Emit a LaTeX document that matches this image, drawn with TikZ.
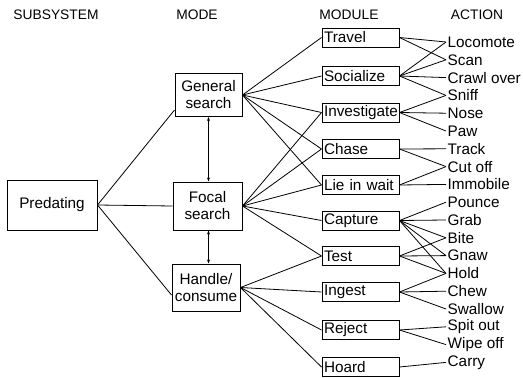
\documentclass[tikz,border=0pt]{standalone}
\usepackage{fontspec}
\setmainfont{Liberation Sans}
\usetikzlibrary{arrows.meta}
\begin{document}
\begin{tikzpicture}[x=1pt,y=-1pt,
  txt/.style={font=\fontsize{15.3}{17}\selectfont},
  box/.style={draw,line width=1pt,txt},
  modbox/.style={box,minimum height=19pt,text width=73pt,inner xsep=2pt,inner ysep=0pt,align=left},
  modebox/.style={box,align=center,inner sep=0pt},
  act/.style={txt,anchor=west,inner xsep=1.5pt,inner ysep=0pt},
  hdr/.style={font=\fontsize{13.8}{15}\selectfont},
  ln/.style={line width=0.8pt},
  dbl/.style={line width=0.8pt,{Stealth[length=4pt,width=3pt]}-{Stealth[length=4pt,width=3pt]}}
]
\path[use as bounding box] (0,0) rectangle (523,378);
% headers
\node[hdr] (h1) at (56,15) {SUBSYSTEM};
\node[hdr] (h2) at (197,15) {MODE};
\node[hdr] (h3) at (349,15) {MODULE};
\node[hdr] (h4) at (477,15) {ACTION};
% subsystem
\node[modebox,minimum width=90pt,minimum height=50pt] (pred) at (52,205) {Predating};
% modes
\node[modebox,minimum width=67pt,minimum height=43pt] (gen) at (208.5,95) {General\\search};
\node[modebox,minimum width=69pt,minimum height=48pt] (foc) at (207.5,206) {Focal\\search};
\node[modebox,minimum width=68pt,minimum height=47pt] (hdl) at (206,287.5) {Handle/\\consume};
% modules
\node[modbox] (travel) at (360.5,37.5) {Travel};
\node[modbox] (social) at (360.5,76) {Socialize};
\node[modbox] (invest) at (360.5,112.5) {Investigate};
\node[modbox] (chase) at (360.5,149) {Chase};
\node[modbox] (lie) at (360.5,185) {Lie in wait};
\node[modbox] (capture) at (360.5,220.5) {Capture};
\node[modbox] (test) at (360.5,256) {Test};
\node[modbox] (ingest) at (360.5,292) {Ingest};
\node[modbox] (reject) at (360.5,330) {Reject};
\node[modbox] (hoard) at (360.5,367) {Hoard};
% actions
\node[act] (loco) at (446,42) {Locomote};
\node[act] (scan) at (446,59.8) {Scan};
\node[act] (crawl) at (446,77.6) {Crawl over};
\node[act] (sniff) at (446,95.4) {Sniff};
\node[act] (nose) at (446,113.2) {Nose};
\node[act] (paw) at (446,131) {Paw};
\node[act] (track) at (446,148.8) {Track};
\node[act] (cut) at (446,166.6) {Cut off};
\node[act] (immo) at (446,184.4) {Immobile};
\node[act] (pounce) at (446,202.2) {Pounce};
\node[act] (grab) at (446,220) {Grab};
\node[act] (bite) at (446,237.8) {Bite};
\node[act] (gnaw) at (446,255.6) {Gnaw};
\node[act] (hold) at (446,273.4) {Hold};
\node[act] (chew) at (446,291.2) {Chew};
\node[act] (swallow) at (446,309) {Swallow};
\node[act] (spit) at (446,326.8) {Spit out};
\node[act] (wipe) at (446,344.6) {Wipe off};
\node[act] (carry) at (446,362.4) {Carry};
% subsystem -> modes
\draw[ln] (pred.east) -- ([yshift=-15pt]gen.west);
\draw[ln] (pred.east) -- (foc.west);
\draw[ln] (pred.east) -- ([yshift=-7.5pt]hdl.west);
% mode links
\draw[dbl] (gen.south) -- (gen.south |- foc.north);
\draw[dbl] (foc.south -| gen.south) -- (hdl.north -| gen.south);
% modes -> modules
\foreach \m in {travel,social,invest,chase,lie} \draw[ln] (gen.east) -- (\m.west);
\foreach \m in {invest,chase,lie,capture,test} \draw[ln] (foc.east) -- (\m.west);
\foreach \m in {test,ingest,reject,hoard} \draw[ln] (hdl.east) -- (\m.west);
% modules -> actions
\foreach \a in {loco,scan} \draw[ln] (travel.east) -- (\a.west);
\foreach \a in {loco,scan,crawl,sniff} \draw[ln] (social.east) -- (\a.west);
\foreach \a in {sniff,nose,paw} \draw[ln] (invest.east) -- (\a.west);
\foreach \a in {track,cut} \draw[ln] (chase.east) -- (\a.west);
\foreach \a in {cut,immo} \draw[ln] (lie.east) -- (\a.west);
\foreach \a in {pounce,grab,bite,gnaw,hold} \draw[ln] (capture.east) -- (\a.west);
\foreach \a in {bite,gnaw,hold} \draw[ln] (test.east) -- (\a.west);
\foreach \a in {hold,chew,swallow} \draw[ln] (ingest.east) -- (\a.west);
\foreach \a in {spit,wipe} \draw[ln] (reject.east) -- (\a.west);
\draw[ln] (hoard.east) -- (carry.west);
\end{tikzpicture}
\end{document}
